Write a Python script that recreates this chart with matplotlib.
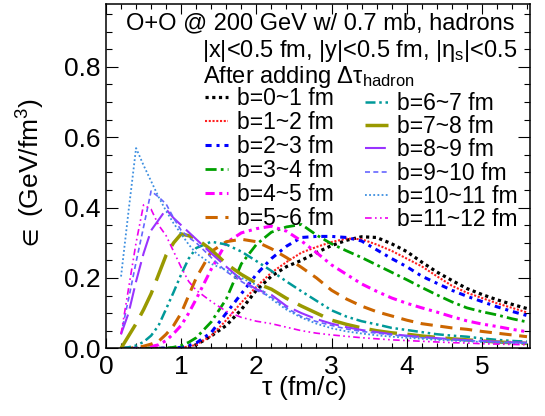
import matplotlib
matplotlib.use("Agg")
import matplotlib.pyplot as plt
from matplotlib.ticker import MultipleLocator, FormatStrFormatter

plt.rcParams['font.family'] = ['Liberation Sans', 'DejaVu Sans']
plt.rcParams['mathtext.fontset'] = 'custom'
plt.rcParams['mathtext.rm'] = 'Liberation Sans'
plt.rcParams['mathtext.it'] = 'Liberation Sans'
plt.rcParams['mathtext.default'] = 'regular'

# proper time grid (fm/c)
tau = [0.2, 0.3, 0.4, 0.5, 0.6, 0.7, 0.8, 0.9, 1.0, 1.1, 1.2, 1.4, 1.6, 1.8, 2.0,
       2.2, 2.4, 2.6, 2.8, 3.0, 3.2, 3.4, 3.6, 3.8, 4.0, 4.2, 4.4, 4.6, 4.8, 5.0,
       5.2, 5.4, 5.6]

# energy density (GeV/fm^3) in each impact-parameter bin
eps_b0 = [0, 0, 0, 0, 0, 0, 0, 0, 0, 0.004, 0.01, 0.035, 0.065, 0.11, 0.165,
          0.205, 0.232, 0.25, 0.272, 0.292, 0.307, 0.317, 0.315, 0.297, 0.275,
          0.245, 0.217, 0.193, 0.17, 0.153, 0.138, 0.125, 0.113]
eps_b1 = [0, 0, 0, 0, 0, 0, 0, 0, 0.002, 0.005, 0.01, 0.035, 0.08, 0.13, 0.175,
          0.215, 0.245, 0.272, 0.288, 0.302, 0.312, 0.31, 0.295, 0.277, 0.255,
          0.233, 0.205, 0.178, 0.158, 0.143, 0.128, 0.115, 0.102]
eps_b2 = [0, 0, 0, 0, 0, 0, 0, 0, 0.003, 0.008, 0.015, 0.045, 0.1, 0.155, 0.21,
          0.255, 0.29, 0.315, 0.318, 0.318, 0.315, 0.305, 0.28, 0.255, 0.232,
          0.205, 0.185, 0.165, 0.148, 0.133, 0.118, 0.105, 0.093]
eps_b3 = [0, 0, 0, 0, 0, 0, 0, 0.003, 0.008, 0.017, 0.03, 0.075, 0.14, 0.24, 0.295,
          0.33, 0.345, 0.352, 0.322, 0.297, 0.277, 0.258, 0.237, 0.216, 0.195,
          0.173, 0.152, 0.132, 0.115, 0.104, 0.095, 0.084, 0.075]
eps_b4 = [0, 0, 0, 0, 0.005, 0.01, 0.022, 0.042, 0.065, 0.1, 0.14, 0.225, 0.3, 0.328, 0.34,
          0.347, 0.333, 0.305, 0.272, 0.237, 0.21, 0.183, 0.162, 0.143, 0.128,
          0.115, 0.103, 0.09, 0.078, 0.069, 0.062, 0.054, 0.047]
eps_b5 = [0, 0, 0.002, 0.006, 0.012, 0.02, 0.04, 0.065, 0.1, 0.15, 0.2, 0.275, 0.303, 0.31, 0.303,
          0.283, 0.258, 0.23, 0.2, 0.165, 0.14, 0.12, 0.104, 0.092, 0.08,
          0.07, 0.064, 0.058, 0.054, 0.048, 0.043, 0.038, 0.033]
eps_b6 = [0, 0.003, 0.008, 0.018, 0.036, 0.065, 0.112, 0.16, 0.21, 0.255, 0.285, 0.303, 0.295, 0.275, 0.248,
          0.22, 0.19, 0.162, 0.135, 0.108, 0.09, 0.077, 0.068, 0.058, 0.052,
          0.046, 0.04, 0.036, 0.033, 0.028, 0.024, 0.021, 0.019]
eps_b7 = [0, 0.035, 0.07, 0.11, 0.155, 0.21, 0.265, 0.3, 0.325, 0.32, 0.312, 0.28, 0.24, 0.21, 0.185,
          0.168, 0.142, 0.12, 0.1, 0.08, 0.068, 0.058, 0.05, 0.044, 0.04,
          0.035, 0.031, 0.027, 0.024, 0.021, 0.018, 0.016, 0.014]
eps_b8 = [0.04, 0.1, 0.19, 0.27, 0.335, 0.365, 0.395, 0.37, 0.35, 0.33, 0.31, 0.27, 0.232, 0.195, 0.168,
          0.152, 0.12, 0.1, 0.083, 0.07, 0.06, 0.052, 0.046, 0.04, 0.036,
          0.032, 0.029, 0.026, 0.023, 0.021, 0.019, 0.017, 0.016]
eps_b9 = [0.04, 0.14, 0.245, 0.345, 0.447, 0.43, 0.41, 0.37, 0.335, 0.315, 0.3, 0.258, 0.218, 0.19, 0.165,
          0.145, 0.115, 0.09, 0.076, 0.065, 0.055, 0.048, 0.043, 0.038, 0.034,
          0.03, 0.027, 0.024, 0.022, 0.02, 0.018, 0.016, 0.015]
eps_b10 = [0.204, 0.39, 0.569, 0.52, 0.475, 0.43, 0.39, 0.355, 0.325, 0.295, 0.27, 0.24, 0.222, 0.2, 0.18,
           0.14, 0.11, 0.087, 0.07, 0.057, 0.048, 0.042, 0.037, 0.033, 0.03,
           0.027, 0.024, 0.022, 0.02, 0.018, 0.016, 0.015, 0.014]
eps_b11 = [0.04, 0.17, 0.3, 0.408, 0.395, 0.35, 0.32, 0.275, 0.23, 0.19, 0.165, 0.133, 0.105, 0.088, 0.077,
           0.07, 0.06, 0.05, 0.043, 0.038, 0.034, 0.03, 0.027, 0.024, 0.022,
           0.02, 0.018, 0.016, 0.015, 0.013, 0.012, 0.011, 0.01]

labels = ['b=0~1 fm', 'b=1~2 fm', 'b=2~3 fm', 'b=3~4 fm', 'b=4~5 fm', 'b=5~6 fm',
          'b=6~7 fm', 'b=7~8 fm', 'b=8~9 fm', 'b=9~10 fm', 'b=10~11 fm', 'b=11~12 fm']
series = [eps_b0, eps_b1, eps_b2, eps_b3, eps_b4, eps_b5,
          eps_b6, eps_b7, eps_b8, eps_b9, eps_b10, eps_b11]

# ROOT-like line styles: (colour, width, dash pattern)
styles = [
    ('#000000', 2.3, (0, (1, 1.1))),
    ('#ff2020', 1.5, (0, (1, 0.8))),
    ('#0000ff', 2.2, (0, (2, 1.6, 1, 1.6))),
    ('#00a000', 2.0, (0, (4, 1.5, 1, 1.5))),
    ('#ff00ff', 2.2, (0, (3, 1.5, 1, 1.5, 1, 1.5))),
    ('#cc6600', 2.2, (0, (4, 2.5))),
    ('#009999', 1.8, (0, (4, 1.5, 1, 1.5, 1, 1.5))),
    ('#999900', 2.5, (0, (8, 3))),
    ('#9933ff', 1.5, (0, (10, 3))),
    ('#6666ff', 1.2, (0, (3, 2))),
    ('#3d8fe0', 1.3, (0, (1, 1.3))),
    ('#ee00ee', 1.2, (0, (4, 2, 1, 2, 1, 2))),
]

W, H = 545, 416
fig = plt.figure(figsize=(W / 100, H / 100), dpi=100)
ax = fig.add_axes([106 / W, 1 - 348.3 / H, 424 / W, 344.8 / H])

lines = []
for eps, lab, (col, lw, ls) in zip(series, labels, styles):
    ln, = ax.plot(tau, eps, color=col, lw=lw, linestyle=ls, label=lab,
                  dash_capstyle='butt')
    lines.append(ln)

ax.set_xlim(0, 5.64)
ax.set_ylim(0, 0.98)
ax.xaxis.set_major_locator(MultipleLocator(1))
ax.xaxis.set_minor_locator(MultipleLocator(0.2))
ax.yaxis.set_major_locator(MultipleLocator(0.2))
ax.yaxis.set_minor_locator(MultipleLocator(0.05))
ax.yaxis.set_major_formatter(FormatStrFormatter('%.1f'))
ax.tick_params(which='both', direction='in', top=True, right=True,
               labelsize=19, width=0.8)
ax.tick_params(axis='y', which='major', length=8.5, pad=4)
ax.tick_params(axis='y', which='minor', length=4.3)
ax.tick_params(axis='x', which='major', length=7.2, pad=5)
ax.tick_params(axis='x', which='minor', length=3.6)
for sp in ax.spines.values():
    sp.set_linewidth(1.1)

fig.text(304 / W, 1 - 388 / H, r'$\tau$ (fm/c)', fontsize=19,
         ha='center', va='center')
fig.text(31 / W, 1 - 175 / H, r'$\in$ (GeV/fm$^{3}$)', fontsize=19,
         rotation=90, ha='center', va='center')

fig.text(126 / W, 1 - 29.3 / H, 'O+O @ 200 GeV w/ 0.7 mb, hadrons',
         fontsize=17, va='baseline')
fig.text(201.7 / W, 1 - 56.7 / H, r'|x|<0.5 fm, |y|<0.5 fm, |$\eta_{s}$|<0.5',
         fontsize=17, va='baseline')
fig.text(203 / W, 1 - 83.3 / H, r'After adding $\Delta\tau_{hadron}$',
         fontsize=17, va='baseline')

leg_kw = dict(loc='upper left', bbox_transform=fig.transFigure, frameon=False,
              fontsize=16.5, borderpad=0, borderaxespad=0, handlelength=1.0,
              handletextpad=0.4)
leg1 = ax.legend(handles=lines[:6], bbox_to_anchor=(205 / W, 1 - 87 / H),
                 labelspacing=0.04, **leg_kw)
ax.add_artist(leg1)
ax.legend(handles=lines[6:], bbox_to_anchor=(365 / W, 1 - 92 / H),
          labelspacing=0.01, **leg_kw)

fig.savefig('out.png', dpi=100)
